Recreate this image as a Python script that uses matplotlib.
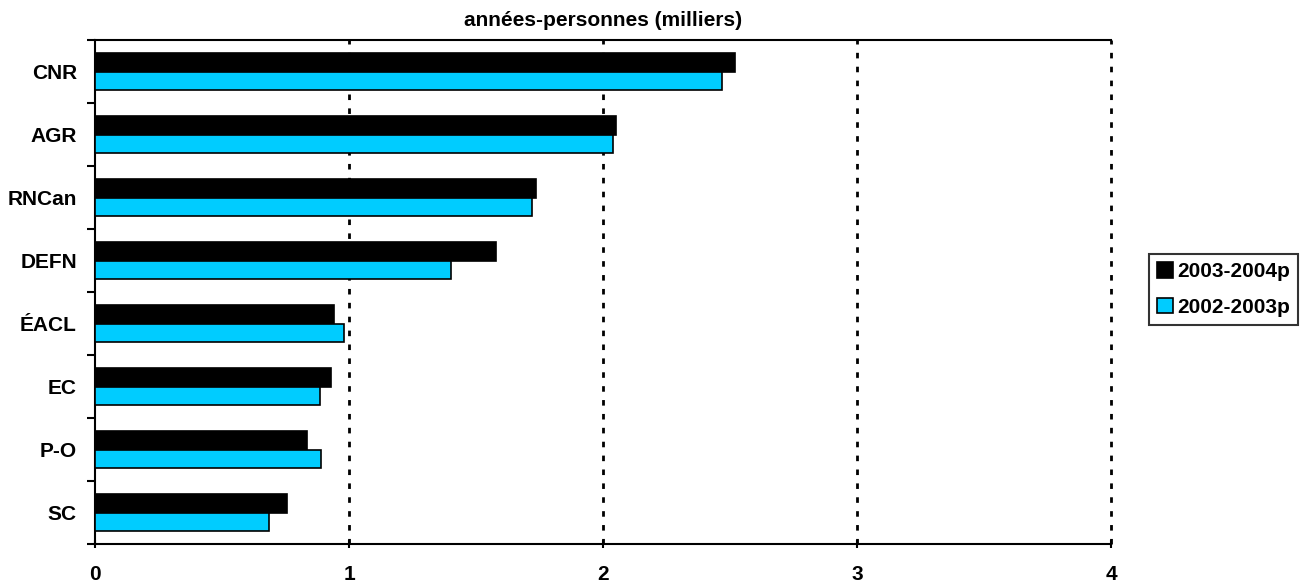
import matplotlib.pyplot as plt
import numpy as np

plt.rcParams['font.family'] = ['Liberation Sans', 'DejaVu Sans']
plt.rcParams['font.weight'] = 'bold'

# Données (milliers d'années-personnes)
categories = ["CNR", "AGR", "RNCan", "DEFN", "ÉACL", "EC", "P-O", "SC"]
serie_2003_2004 = [2.52, 2.05, 1.735, 1.58, 0.94, 0.93, 0.835, 0.755]
serie_2002_2003 = [2.47, 2.04, 1.72, 1.40, 0.98, 0.885, 0.89, 0.685]
noms_series = ["2003-2004p", "2002-2003p"]
xticks = [0, 1, 2, 3, 4]

fig = plt.figure(figsize=(13.09, 5.85), dpi=100)
ax = fig.add_axes([0.0726, 0.070, 0.7762, 0.8616])

y = np.arange(len(categories))
h = 0.29
ax.barh(y - h / 2, serie_2003_2004, height=h, color="black", edgecolor="black",
        linewidth=1.2, label=noms_series[0], zorder=3)
ax.barh(y + h / 2, serie_2002_2003, height=h, color="#00CCFF", edgecolor="black",
        linewidth=1.2, label=noms_series[1], zorder=3)

ax.set_xlim(0, 4)
ax.set_ylim(len(categories) - 0.5, -0.5)
ax.set_xticks(xticks)
ax.set_xticklabels([str(v) for v in xticks], fontsize=15, fontweight="bold")
ax.set_yticks(y)
ax.set_yticklabels(categories, fontsize=15, fontweight="bold")
ax.set_yticks(np.arange(-0.5, len(categories)), minor=True)
ax.tick_params(axis="y", which="major", length=0, pad=13)
ax.tick_params(axis="y", which="minor", length=6, width=1.5, direction="out")
ax.tick_params(axis="x", length=6, width=1.5, direction="inout", pad=12)

for v in xticks[1:]:
    ax.axvline(v, color="black", linestyle=(0, (2, 3)), linewidth=2, zorder=1,
               clip_on=False)

for s in ["left", "bottom", "top"]:
    ax.spines[s].set_linewidth(1.5)
ax.spines["right"].set_visible(False)

ax.set_title("années-personnes (milliers)", fontsize=15, fontweight="bold", pad=10)

leg = ax.legend(loc="center left", bbox_to_anchor=(1.037, 0.505), fontsize=15,
                frameon=True, fancybox=False, edgecolor="black",
                handlelength=0.75, handleheight=0.75, handletextpad=0.2,
                borderpad=0.4, labelspacing=0.8, borderaxespad=0)
leg.get_frame().set_linewidth(1.5)
for t in leg.get_texts():
    t.set_fontweight("bold")

fig.savefig("out.png", dpi=100)
